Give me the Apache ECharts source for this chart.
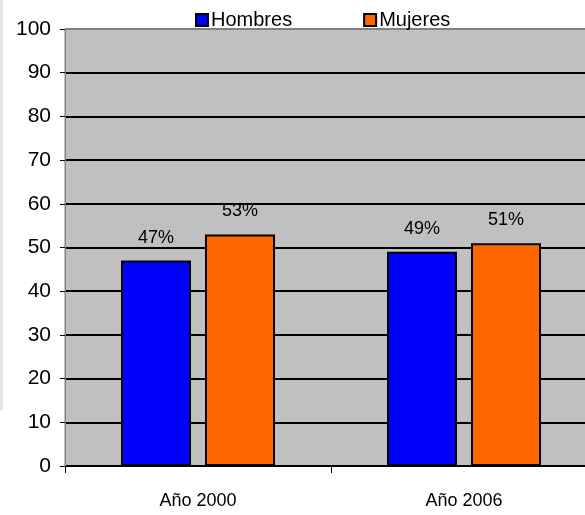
<!DOCTYPE html>
<html>
<head>
<meta charset="utf-8">
<script src="https://cdn.jsdelivr.net/npm/echarts@6/dist/echarts.min.js"></script>
<style>
  html, body { margin: 0; padding: 0; background: #fff; overflow: hidden; }
  /* el area de trazado se sale por la derecha, como en el original */
  #chart { width: 597px; height: 515px; }
</style>
</head>
<body>
<div id="chart"></div>
<script>
var years = ['Año 2000', 'Año 2006'];
var hombres = [47, 49];
var mujeres = [53, 51];
var yTicks = [0, 10, 20, 30, 40, 50, 60, 70, 80, 90, 100];

var font = 'Liberation Sans, Arial, sans-serif';

// lineas de la rejilla: negras, la de arriba gris (borde)
var gridColors = yTicks.map(function (v, i) {
  return i === yTicks.length - 1 ? '#808080' : '#000';
});

var option = {
  animation: false,
  textStyle: { fontFamily: font },
  legend: {
    top: 5,
    left: 190,
    icon: 'rect',
    itemWidth: 12,
    itemHeight: 12,
    itemGap: 71,
    textStyle: { fontSize: 20, color: '#000', fontFamily: font, padding: [0, 0, 0, -2] },
    itemStyle: { borderColor: '#000', borderWidth: 2 },
    data: ['Hombres', 'Mujeres']
  },
  grid: {
    left: 65,
    right: 0,
    top: 29,
    bottom: 49,
    show: true,
    backgroundColor: '#C0C0C0',
    borderColor: '#808080',
    borderWidth: 1
  },
  xAxis: {
    type: 'category',
    data: years,
    axisLine: { lineStyle: { color: '#000', width: 1 } },
    axisTick: { show: true, length: 7, lineStyle: { color: '#000' } },
    axisLabel: { fontSize: 18, color: '#000', margin: 26, fontFamily: font }
  },
  yAxis: {
    type: 'value',
    min: 0,
    max: 100,
    interval: 10,
    axisLine: { show: true, lineStyle: { color: '#808080', width: 1 } },
    axisTick: { show: true, length: 5, lineStyle: { color: '#000' } },
    axisLabel: { fontSize: 21, color: '#000', margin: 14, fontFamily: font },
    splitLine: { show: true, lineStyle: { color: gridColors, width: 2 } }
  },
  series: [
    {
      name: 'Hombres',
      type: 'bar',
      data: hombres,
      barWidth: 70,
      barGap: '20%',
      itemStyle: { color: '#0000FF', borderColor: '#000', borderWidth: 2 },
      label: {
        show: true, position: 'top', distance: 14,
        formatter: '{c}%', fontSize: 18, color: '#000', fontFamily: font
      }
    },
    {
      name: 'Mujeres',
      type: 'bar',
      data: mujeres,
      barWidth: 70,
      itemStyle: { color: '#FF6600', borderColor: '#000', borderWidth: 2 },
      label: {
        show: true, position: 'top', distance: 14,
        formatter: '{c}%', fontSize: 18, color: '#000', fontFamily: font
      }
    }
  ],
  graphic: [
    { type: 'rect', left: 0, top: 0, shape: { width: 3, height: 410 }, style: { fill: '#E4E4E4' }, silent: true }
  ]
};

var chart = echarts.init(document.getElementById('chart'));
chart.setOption(option);
</script>
</body>
</html>
